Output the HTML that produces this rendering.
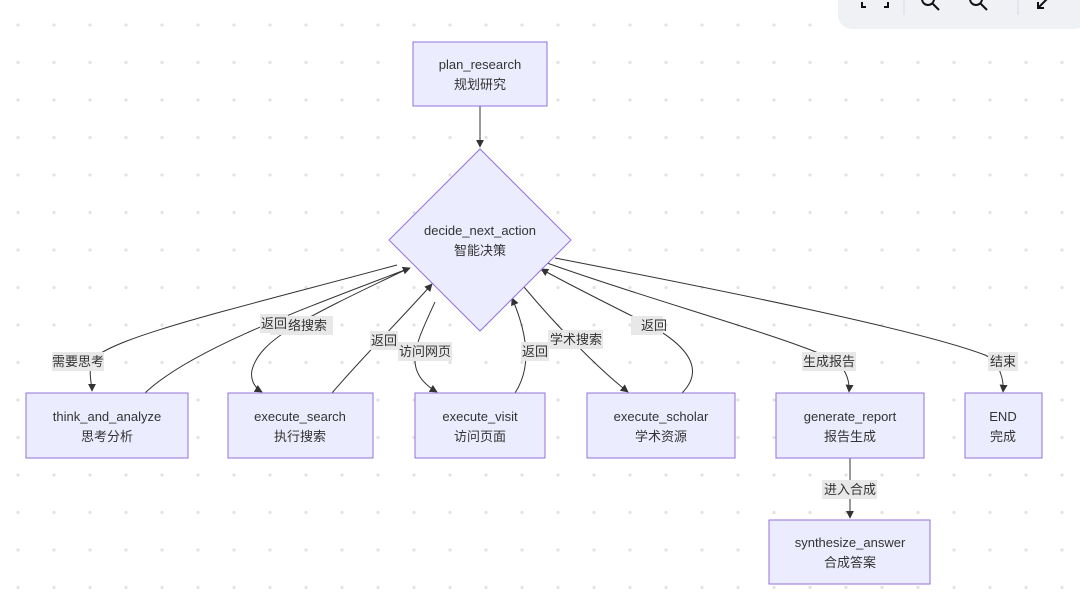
<!DOCTYPE html>
<html><head><meta charset="utf-8"><style>
html,body{margin:0;padding:0;background:#fff;}
svg{display:block;}
text{font-family:"Liberation Sans","Noto Sans CJK SC",sans-serif;font-size:13px;fill:#333;}
.n{fill:#ececff;stroke:#9370db;stroke-width:1;}
.e{fill:none;stroke:#333;stroke-width:1;}
.lb{fill:#e8e8e8;}
</style></head><body>
<svg width="1080" height="599" viewBox="0 0 1080 599" xmlns="http://www.w3.org/2000/svg">
<defs>
<pattern id="dots" x="0" y="6" width="36" height="37.5" patternUnits="userSpaceOnUse">
<circle cx="18" cy="19" r="1.6" fill="#e2e2e2"/></pattern>
<marker id="a" viewBox="0 0 10 10" refX="9" refY="5" markerWidth="8" markerHeight="8" orient="auto-start-reverse"><path d="M0,0L10,5L0,10z" fill="#333"/></marker>
</defs>
<rect width="1080" height="599" fill="url(#dots)"/>
<rect x="838" y="-20" width="250" height="49" rx="14" fill="#eff1f5"/>
<g stroke="#111" stroke-width="2" fill="none">
<path d="M862,2v5h4M884,7h4v-5"/>
<circle cx="928" cy="-1" r="6"/><path d="M932,3l7,7"/>
<circle cx="976" cy="-1" r="6"/><path d="M980,3l7,7"/>
<path d="M1048,-2l-10,10M1038,2v6h6"/>
</g>
<path d="M904,-5v20M1018,-5v20" stroke="#dde1e8" stroke-width="1.5"/>

<!-- edges -->
<path class="e" d="M480,106V147" marker-end="url(#a)"/>
<path class="e" d="M397,265C230,310 100,340 92,362C88,372 92,385 92,391" marker-end="url(#a)"/>
<path class="e" d="M145,393C190,350 300,310 410,268" marker-end="url(#a)"/>
<path class="e" d="M405,270C300,320 260,340 252,370C250,380 255,388 262,392" marker-end="url(#a)"/>
<path class="e" d="M332,393C360,360 400,320 432,284" marker-end="url(#a)"/>
<path class="e" d="M435,302C422,330 415,345 415,360C415,375 425,385 437,392" marker-end="url(#a)"/>
<path class="e" d="M515,393C530,370 530,340 512,298" marker-end="url(#a)"/>
<path class="e" d="M524,287C560,330 600,370 628,392" marker-end="url(#a)"/>
<path class="e" d="M682,393C700,375 700,350 640,320C600,300 570,285 541,269" marker-end="url(#a)"/>
<path class="e" d="M547,263C650,300 780,335 830,358C845,365 850,380 849,392" marker-end="url(#a)"/>
<path class="e" d="M555,258C720,290 920,330 985,355C1000,362 1004,380 1003,392" marker-end="url(#a)"/>
<path class="e" d="M850,458V518" marker-end="url(#a)"/>

<!-- labels -->
<rect class="lb" x="52" y="352" width="52" height="19"/><text x="78" y="366" text-anchor="middle">需要思考</text>
<rect class="lb" x="270" y="316" width="63" height="19"/><text x="301" y="330" text-anchor="middle">网络搜索</text>
<rect class="lb" x="260" y="314" width="28" height="19"/><text x="274" y="328" text-anchor="middle">返回</text>
<rect class="lb" x="370" y="331" width="28" height="19"/><text x="384" y="345" text-anchor="middle">返回</text>
<rect class="lb" x="398" y="342" width="54" height="19"/><text x="425" y="356" text-anchor="middle">访问网页</text>
<rect class="lb" x="521" y="342" width="28" height="19"/><text x="535" y="356" text-anchor="middle">返回</text>
<rect class="lb" x="548" y="330" width="55" height="19"/><text x="576" y="344" text-anchor="middle">学术搜索</text>
<rect class="lb" x="631" y="316" width="32" height="19"/><text x="654" y="330" text-anchor="middle">返回</text>
<rect class="lb" x="802" y="352" width="54" height="19"/><text x="829" y="366" text-anchor="middle">生成报告</text>
<rect class="lb" x="988" y="352" width="30" height="19"/><text x="1003" y="366" text-anchor="middle">结束</text>
<rect class="lb" x="822" y="480" width="55" height="19"/><text x="850" y="494" text-anchor="middle">进入合成</text>

<!-- nodes -->
<rect class="n" x="413" y="42" width="134" height="64"/>
<text x="480" y="69" text-anchor="middle">plan_research</text><text x="480" y="89" text-anchor="middle">规划研究</text>
<polygon class="n" points="480,149 571,240 480,331 389,240"/>
<text x="480" y="235" text-anchor="middle">decide_next_action</text><text x="480" y="255" text-anchor="middle">智能决策</text>

<rect class="n" x="26" y="393" width="162" height="65"/>
<text x="107" y="421" text-anchor="middle">think_and_analyze</text><text x="107" y="441" text-anchor="middle">思考分析</text>
<rect class="n" x="228" y="393" width="145" height="65"/>
<text x="300" y="421" text-anchor="middle">execute_search</text><text x="300" y="441" text-anchor="middle">执行搜索</text>
<rect class="n" x="415" y="393" width="130" height="65"/>
<text x="480" y="421" text-anchor="middle">execute_visit</text><text x="480" y="441" text-anchor="middle">访问页面</text>
<rect class="n" x="587" y="393" width="148" height="65"/>
<text x="661" y="421" text-anchor="middle">execute_scholar</text><text x="661" y="441" text-anchor="middle">学术资源</text>
<rect class="n" x="776" y="393" width="148" height="65"/>
<text x="850" y="421" text-anchor="middle">generate_report</text><text x="850" y="441" text-anchor="middle">报告生成</text>
<rect class="n" x="965" y="393" width="77" height="65"/>
<text x="1003" y="421" text-anchor="middle">END</text><text x="1003" y="441" text-anchor="middle">完成</text>
<rect class="n" x="769" y="520" width="161" height="64"/>
<text x="850" y="547" text-anchor="middle">synthesize_answer</text><text x="850" y="567" text-anchor="middle">合成答案</text>
</svg>
</body></html>
